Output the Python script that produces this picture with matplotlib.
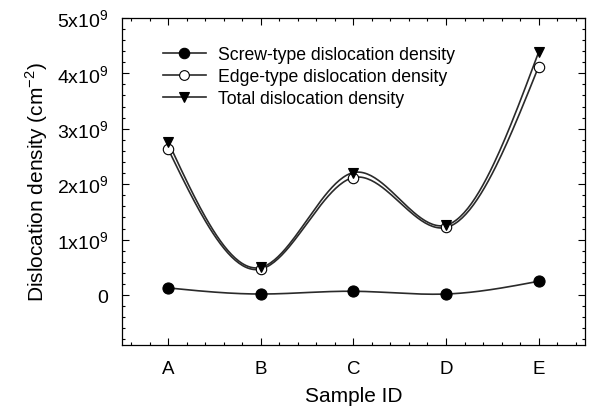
import numpy as np
import matplotlib
matplotlib.use("Agg")
import matplotlib.pyplot as plt
from matplotlib.ticker import MultipleLocator

plt.rcParams['font.family'] = ['Liberation Sans', 'DejaVu Sans']
plt.rcParams['mathtext.fontset'] = 'custom'
plt.rcParams['mathtext.rm'] = 'Liberation Sans'

# ─── Data ────────────────────────────────────────────────────────────────────
SAMPLES = ["A", "B", "C", "D", "E"]
SCREW = np.array([0.13, 0.02, 0.07, 0.02, 0.25]) * 1e9
EDGE = np.array([2.63, 0.47, 2.12, 1.22, 4.12]) * 1e9
TOTAL = np.array([2.76, 0.50, 2.21, 1.26, 4.38]) * 1e9

YTICKS = [0, 1e9, 2e9, 3e9, 4e9, 5e9]
YTICK_LABELS = ["0", r"1x10$^\mathregular{9}$", r"2x10$^\mathregular{9}$",
                r"3x10$^\mathregular{9}$", r"4x10$^\mathregular{9}$",
                r"5x10$^\mathregular{9}$"]

LINE_COLOR = "#2a2a2a"


def natural_spline(x, y, n=200):
    """Natural cubic spline through the points (numpy only)."""
    x = np.asarray(x, float)
    y = np.asarray(y, float)
    k = len(x)
    h = np.diff(x)
    A = np.zeros((k, k))
    rhs = np.zeros(k)
    A[0, 0] = A[-1, -1] = 1
    for i in range(1, k - 1):
        A[i, i - 1] = h[i - 1]
        A[i, i] = 2 * (h[i - 1] + h[i])
        A[i, i + 1] = h[i]
        rhs[i] = 6 * ((y[i + 1] - y[i]) / h[i] - (y[i] - y[i - 1]) / h[i - 1])
    M = np.linalg.solve(A, rhs)
    xs = np.linspace(x[0], x[-1], n)
    idx = np.clip(np.searchsorted(x, xs) - 1, 0, k - 2)
    x0, x1 = x[idx], x[idx + 1]
    hh = x1 - x0
    a = (x1 - xs) / hh
    b = (xs - x0) / hh
    ys = (a * y[idx] + b * y[idx + 1]
          + ((a ** 3 - a) * M[idx] + (b ** 3 - b) * M[idx + 1]) * hh ** 2 / 6)
    return xs, ys


def main():
    x = np.arange(len(SAMPLES))
    fig = plt.figure(figsize=(5.92, 4.10), dpi=100)
    ax = fig.add_axes([0.206, 0.156, 0.782, 0.798])

    series = [
        (SCREW, "o", "black", "Screw-type dislocation density", 8),
        (EDGE, "o", "white", "Edge-type dislocation density", 7.5),
        (TOTAL, "v", "black", "Total dislocation density", 7.5),
    ]
    for y, mk, fc, label, msz in series:
        xs, ys = natural_spline(x, y)
        ax.plot(xs, ys, color=LINE_COLOR, lw=1.2, zorder=2)
        ax.plot(x, y, ls="none", marker=mk, ms=msz, mfc=fc, mec="black",
                mew=0.8, zorder=3)
        # legend proxy
        ax.plot([], [], color=LINE_COLOR, lw=1.2, marker=mk, ms=msz - 0.5,
                mfc=fc, mec="black", mew=0.8, label=label)

    ax.set_xlim(-0.5, 4.5)
    ax.set_ylim(-0.9e9, 5e9)
    ax.set_xticks(x)
    ax.set_xticklabels(SAMPLES, fontsize=13.5)
    ax.xaxis.set_minor_locator(MultipleLocator(0.2))
    ax.set_yticks(YTICKS)
    ax.set_yticklabels(YTICK_LABELS, fontsize=14)
    ax.yaxis.set_minor_locator(MultipleLocator(0.2e9))
    ax.tick_params(which="both", direction="in", top=True, right=True,
                   colors="black", width=0.8)
    ax.tick_params(which="major", length=5)
    ax.tick_params(axis="x", which="major", pad=11)
    ax.tick_params(axis="y", which="major", pad=10)
    ax.tick_params(which="minor", length=2.5)
    for sp in ax.spines.values():
        sp.set_linewidth(0.9)

    ax.set_xlabel("Sample ID", fontsize=15, labelpad=6)
    ax.set_ylabel(r"Dislocation density (cm$^{\mathregular{-2}}$)",
                  fontsize=15, labelpad=5)

    ax.legend(loc="upper left", bbox_to_anchor=(0.074, 0.935), frameon=False,
              fontsize=12.7, handlelength=2.4, handletextpad=0.7,
              labelspacing=0.27, borderaxespad=0)

    fig.savefig("out.png", dpi=100)


if __name__ == "__main__":
    main()
